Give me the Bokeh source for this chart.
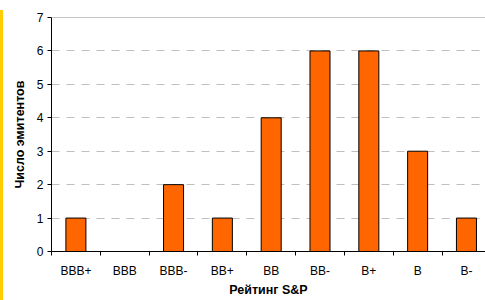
from bokeh.plotting import figure
from bokeh.models import Range1d, FixedTicker, Span, Div
from bokeh.layouts import row
from bokeh.embed import file_html
from bokeh.resources import INLINE

ratings = ["BBB+", "BBB", "BBB-", "BB+", "BB", "BB-", "B+", "B", "B-"]
counts = [1, 0, 2, 1, 4, 6, 6, 3, 1]
y_ticks = [0, 1, 2, 3, 4, 5, 6, 7]

FONT = "Liberation Sans"
n = len(ratings)
centers = [i + 0.5 for i in range(n)]
boundaries = list(range(n + 1))

p = figure(width=482, height=300, output_backend="svg", toolbar_location=None,
           x_range=Range1d(0, 8.89), y_range=Range1d(0, 7),
           min_border_left=48, min_border_right=0, min_border_top=17, min_border_bottom=49,
           background_fill_color="white", border_fill_color="white")
p.outline_line_color = None

p.vbar(x=centers, top=counts, width=0.41, fill_color="#FF6600",
       line_color="black", line_width=1)

# x axis
xa = p.xaxis[0]
xa.ticker = FixedTicker(ticks=centers, minor_ticks=boundaries)
xa.major_label_overrides = {c: r for c, r in zip(centers, ratings)}
xa.major_tick_line_color = None
xa.major_tick_out = 4
xa.major_tick_in = 0
xa.minor_tick_line_color = "black"
xa.minor_tick_out = 4
xa.minor_tick_in = 0
xa.axis_line_color = "black"
xa.major_label_standoff = 8
xa.major_label_text_font = FONT
xa.major_label_text_font_size = "12px"
xa.major_label_text_color = "black"
xa.axis_label = "Рейтинг S&P"
xa.axis_label_text_font = FONT
xa.axis_label_text_font_size = "12.5px"
xa.axis_label_text_font_style = "bold"
xa.axis_label_text_color = "black"
xa.axis_label_standoff = 2

# y axis
ya = p.yaxis[0]
ya.ticker = FixedTicker(ticks=y_ticks)
ya.minor_tick_line_color = None
ya.major_tick_out = 4
ya.major_tick_in = 0
ya.major_tick_line_color = "black"
ya.axis_line_color = "black"
ya.major_label_standoff = 4
ya.major_label_text_font = FONT
ya.major_label_text_font_size = "12px"
ya.major_label_text_color = "black"
ya.axis_label = "Число эмитентов"
ya.axis_label_text_font = FONT
ya.axis_label_text_font_size = "12.5px"
ya.axis_label_text_font_style = "bold"
ya.axis_label_text_color = "black"
ya.axis_label_standoff = 7

p.xgrid.grid_line_color = None
p.ygrid.grid_line_color = "#BFBFBF"
p.ygrid.grid_line_dash = "8 7"
p.ygrid.grid_line_width = 1

p.add_layout(Span(location=y_ticks[-1], dimension="width", line_color="#8C8C8C", line_width=1))

bar = Div(text='<div style="width:3px;height:290px;margin-top:10px;background:#FFCC00"></div>',
          width=3, height=300, margin=0)

layout = row(bar, p)
open("out.html", "w").write(file_html(layout, INLINE))
